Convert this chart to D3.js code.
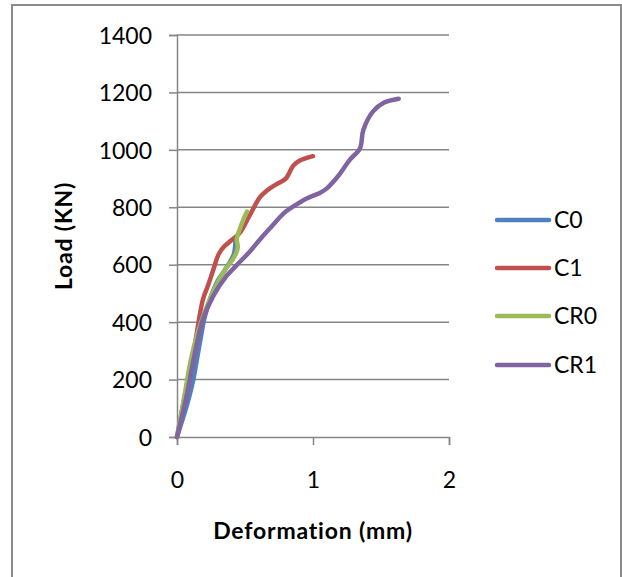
<!DOCTYPE html>
<html><head><meta charset="utf-8">
<script src="https://cdn.jsdelivr.net/npm/d3@7"></script>
<style>body{margin:0;background:#fff}svg{display:block}text{font-family:Lato,"Open Sans",sans-serif;fill:#000}</style>
</head><body><svg id="c" width="622" height="577"></svg>
<script>
const seriesNames = ["C0","C1","CR0","CR1"];
const seriesColors = ["#4F81BD","#C0504D","#9BBB59","#8064A2"];
const c0X = [0,0.03,0.06,0.09,0.12,0.15,0.18,0.2,0.25,0.3,0.35,0.39,0.42,0.43];
const c0Y = [0,45,90,140,200,280,360,410,490,545,580,610,640,690];
const c1X = [0,0.06,0.12,0.19,0.23,0.265,0.31,0.35,0.4,0.46,0.53,0.61,0.66,0.73,0.8,0.855,0.9,1.0];
const c1Y = [0,150,290,478,530,580,640,665,685,710,768,835,858,880,900,945,962,978];
const cr0X = [0,0.05,0.1,0.15,0.2,0.25,0.3,0.35,0.4,0.43,0.447,0.44,0.46,0.49,0.515];
const cr0Y = [0,130,265,360,430,490,540,580,612,635,660,690,722,760,785];
const cr1X = [0,0.07,0.142,0.19,0.265,0.363,0.436,0.534,0.61,0.68,0.75,0.8,0.855,0.95,1.05,1.1,1.17,1.2,1.27,1.345,1.37,1.44,1.52,1.63];
const cr1Y = [0,142,316,409,490,560,597,645,688,725,762,785,803,830,850,865,900,918,965,1005,1069,1133,1164,1178];
const xTicks = [0,1,2];
const yTicks = [0,200,400,600,800,1000,1200,1400];

const svg = d3.select("#c");
const x = d3.scaleLinear().domain([0,2]).range([177,449]);
const y = d3.scaleLinear().domain([0,1400]).range([437,35]);
const grid = "#868686";

// outer frame
svg.append("rect").attr("x",12).attr("y",5).attr("width",609).attr("height",600)
  .attr("fill","none").attr("stroke","#8c8c8c").attr("stroke-width",2);

// gridlines
svg.append("g").selectAll("line").data(yTicks.filter(d=>d>0)).join("line")
  .attr("x1",x(0)).attr("x2",x(2)).attr("y1",d=>y(d)).attr("y2",d=>y(d))
  .attr("stroke",grid).attr("stroke-width",1.5);

// y axis
const yAxis = svg.append("g").attr("transform",`translate(${x(0)},0)`)
  .call(d3.axisLeft(y).tickValues(yTicks).tickSize(8).tickPadding(17).tickFormat(d3.format("d")));
yAxis.select(".domain").attr("stroke",grid).attr("stroke-width",1.5);
yAxis.selectAll(".tick line").attr("stroke",grid).attr("stroke-width",1.5);
yAxis.selectAll("text").attr("font-size",23).attr("font-family","Lato").attr("fill","#000").attr("dy","0.36em");

// x axis
const xAxis = svg.append("g").attr("transform",`translate(0,${y(0)})`)
  .call(d3.axisBottom(x).tickValues(xTicks).tickSize(8).tickPadding(27).tickFormat(d3.format("d")));
xAxis.select(".domain").attr("stroke",grid).attr("stroke-width",1.5);
xAxis.selectAll(".tick line").attr("stroke",grid).attr("stroke-width",1.5);
xAxis.selectAll("text").attr("font-size",23).attr("font-family","Lato").attr("fill","#000");

// series
const data = [[c0X,c0Y],[c1X,c1Y],[cr0X,cr0Y],[cr1X,cr1Y]].map(([xs,ys])=>xs.map((v,i)=>[v,ys[i]]));
const line = d3.line().x(d=>x(d[0])).y(d=>y(d[1])).curve(d3.curveCatmullRom.alpha(0.5));
svg.append("g").selectAll("path").data(data).join("path")
  .attr("d",line).attr("fill","none").attr("stroke",(d,i)=>seriesColors[i])
  .attr("stroke-width",4.5).attr("stroke-linecap","round").attr("stroke-linejoin","round");

// axis titles
svg.append("text").attr("x",313).attr("y",539).attr("text-anchor","middle")
  .attr("font-size",23).attr("font-weight","bold").attr("letter-spacing",0.8).text("Deformation (mm)");
svg.append("text").attr("transform","translate(72,236) rotate(-90)").attr("text-anchor","middle")
  .attr("font-size",23).attr("font-weight","bold").attr("letter-spacing",0.8).text("Load (KN)");

// legend
const legY = [220,268,316,365];
const leg = svg.append("g").selectAll("g").data(seriesNames).join("g")
  .attr("transform",(d,i)=>`translate(0,${legY[i]})`);
leg.append("line").attr("x1",497).attr("x2",549).attr("y1",0).attr("y2",0)
  .attr("stroke",(d,i)=>seriesColors[i]).attr("stroke-width",4.5).attr("stroke-linecap","round");
leg.append("text").attr("x",554).attr("y",0).attr("dy","0.36em").attr("font-size",23).text(d=>d);
</script></body></html>
